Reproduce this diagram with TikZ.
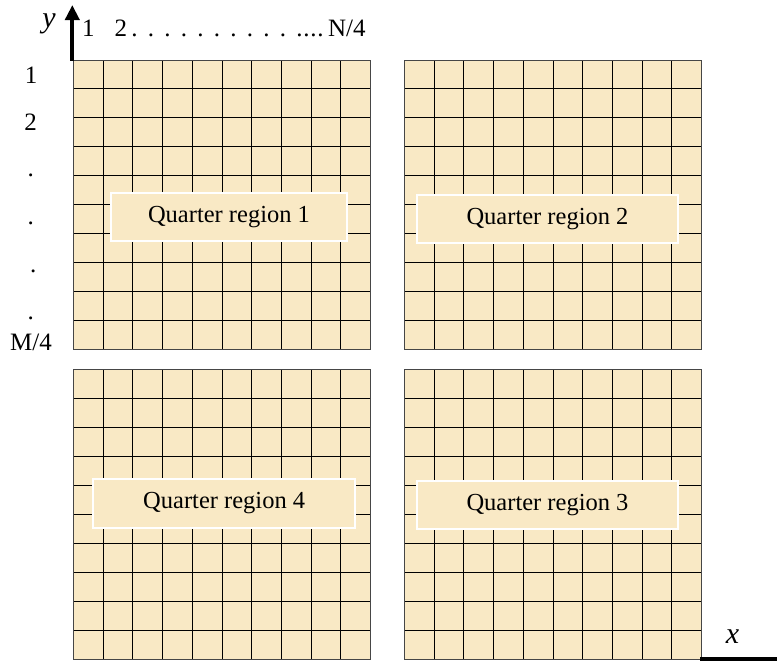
\documentclass[tikz,border=0pt]{standalone}
\usepackage{fontspec}
\setmainfont{Liberation Serif}
\usetikzlibrary{arrows.meta}
\definecolor{cellfill}{RGB}{249,233,197}
\definecolor{bordergray}{RGB}{70,70,70}
\newcommand\qgrid[4]{%
  \fill[cellfill] (#1,#2) rectangle (#3,#4);
  \foreach \i in {1,...,9} {
    \draw[gridline] ({#1+(#3-#1)*\i/10},#2) -- ({#1+(#3-#1)*\i/10},#4);
    \draw[gridline] (#1,{#2+(#4-#2)*\i/10}) -- (#3,{#2+(#4-#2)*\i/10});
  }
  \draw[gridborder] (#1,#2) rectangle (#3,#4);
}
\begin{document}
\begin{tikzpicture}[x=1pt,y=-1pt,
  gridline/.style={black,line width=1pt},
  gridborder/.style={bordergray,line width=1pt},
  qlabel/.style={fill=cellfill,draw=white,line width=2pt,inner sep=0pt,font=\fontsize{24.5}{28}\selectfont},
  txt/.style={inner sep=0pt,anchor=base,font=\fontsize{25}{28}\selectfont},
  axlab/.style={inner sep=0pt,anchor=base,font=\fontsize{30}{32}\selectfont\itshape},
  axis/.style={line width=4pt,-{Triangle[width=14pt,length=15pt]}}]
\useasboundingbox (0,0) rectangle (777,665);
\clip (0,0) rectangle (777,665);
% grids
\qgrid{73.3}{60}{370.7}{349.3}
\qgrid{404.3}{60}{701.7}{349.3}
\qgrid{73.3}{369.3}{370.7}{659}
\qgrid{404.3}{369.3}{701.7}{659}
% labels
\node[qlabel,minimum width=236.6pt,minimum height=48pt] (q1) at (229,216.7) {Quarter region 1};
\node[qlabel,minimum width=261.6pt,minimum height=48pt] (q2) at (547.5,219.3) {Quarter region 2};
\node[qlabel,minimum width=261.7pt,minimum height=48.7pt] (q4) at (224.2,503.3) {Quarter region 4};
\node[qlabel,minimum width=261.6pt,minimum height=48.3pt] (q3) at (547.5,505.2) {Quarter region 3};
% axes
\coordinate (yfrom) at (72.3,60.5);
\coordinate (yto) at (72.3,5);
\draw[axis] (yfrom) -- (yto);
\coordinate (xfrom) at (700,659.3);
\coordinate (xto) at (792,659.3);
\draw[axis] (xfrom) -- (xto);
\node[axlab] (ylab) at (49,27.5) {y};
\node[axlab] (xlab) at (732.5,643.3) {x};
% top numbering
\node[txt,anchor=base west] (toprow) at (82,36.5) {1\hspace{19.8pt}2\hspace{4.4pt}.\hspace{10.25pt}.\hspace{10.25pt}.\hspace{10.25pt}.\hspace{10.25pt}.\hspace{10.25pt}.\hspace{10.25pt}.\hspace{10.25pt}.\hspace{10.25pt}.\hspace{10.25pt}.\hspace{10.25pt}.\hspace{0.75pt}.\hspace{0.75pt}.\hspace{0.75pt}.\hspace{4.5pt}N/4};
% left numbering
\node[txt] (r1) at (31,83.3) {1};
\node[txt] (r2) at (30.5,130.7) {2};
\node[txt] (d1) at (30.7,176.5) {.};
\node[txt] (d2) at (30.7,224.2) {.};
\node[txt] (d3) at (33.3,272.2) {.};
\node[txt] (d4) at (30.7,319.8) {.};
\node[txt] (rm) at (31,350) {M/4};
\end{tikzpicture}
\end{document}
